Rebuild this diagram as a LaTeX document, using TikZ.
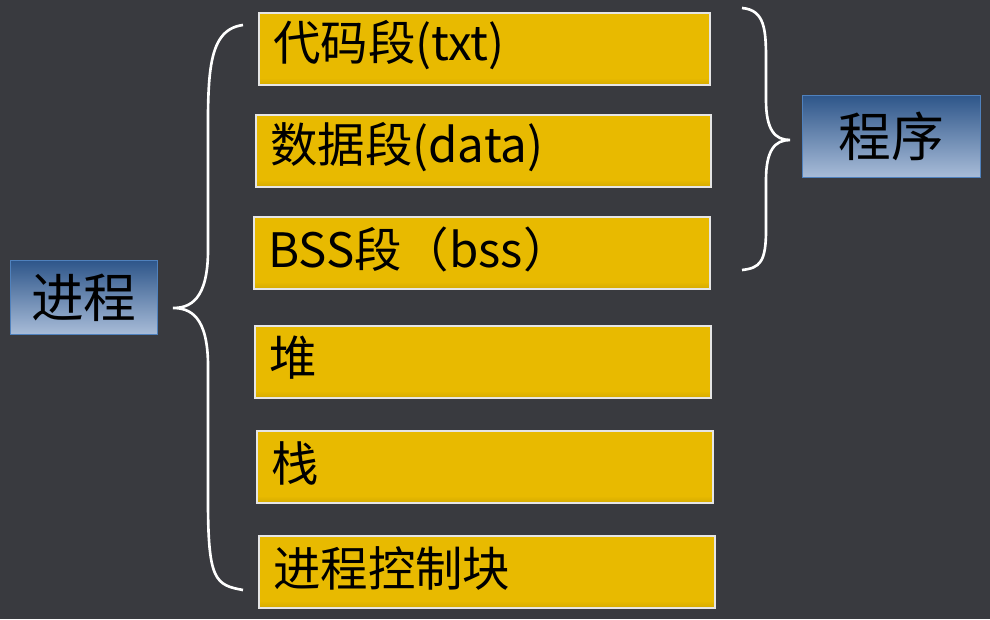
\documentclass[tikz,border=0pt]{standalone}
\usepackage{fontspec}
\setmainfont{Noto Sans CJK SC}
\usetikzlibrary{positioning,calc}
\definecolor{bgcolor}{RGB}{57,58,63}
\definecolor{goldtop}{RGB}{160,122,0}
\definecolor{goldmid}{RGB}{232,186,0}
\definecolor{goldbot}{RGB}{115,88,0}
\definecolor{bluetop}{RGB}{46,86,138}
\definecolor{bluebot}{RGB}{168,188,216}
\definecolor{blueline}{RGB}{79,129,189}
\pgfdeclareverticalshading{goldshade}{100bp}{color(0bp)=(goldbot);
  color(30bp)=(goldmid); color(75bp)=(goldmid); color(100bp)=(goldtop)}
\tikzset{
  %% segbox : one memory segment
  segbox/.style={
    rectangle,
    draw=white!90!black,
    line width=1.2pt,
    shading=goldshade,
    minimum height=1.44cm,
    anchor=north west
  },
  %% segtext : text in a segment
  segtext/.style={
    anchor=west,
    text=black,
    xshift=0.18cm,
    yshift=0.08cm,
    font=\fontsize{27}{31}\selectfont
  },
  %% title : the two labels
  title/.style={
    rectangle,
    draw=blueline,
    top color=bluetop,
    bottom color=bluebot,
    anchor=north west,
    text=black,
    font=\fontsize{30}{34}\selectfont
  },
  %% brace : white curly brace
  brace/.style={white, line width=1.5pt}
}
\begin{document}
\begin{tikzpicture}
  [x=0.02cm,
  y=-0.02cm]

  \fill[bgcolor] (0,0) rectangle (990,619);
  \useasboundingbox (0,0) rectangle (990,619);

  %% Segments
  \node (txt) [segbox, minimum width=9.02cm] at (258,12) {};
  \node [segtext] at (txt.west) {代码段(txt)};
  \node (data) [segbox, minimum width=9.1cm] at (255,114) {};
  \node [segtext] at (data.west) {数据段(data)};
  \node (bss) [segbox, minimum width=9.12cm] at (253,216) {};
  \node [segtext] at (bss.west) {BSS段（bss）};
  \node (heap) [segbox, minimum width=9.12cm] at (254,325) {};
  \node [segtext] at (heap.west) {堆};
  \node (stack) [segbox, minimum width=9.12cm] at (256,430) {};
  \node [segtext] at (stack.west) {栈};
  \node (pcb) [segbox, minimum width=9.12cm] at (258,535) {};
  \node [segtext] at (pcb.west) {进程控制块};

  %% Labels
  \node (proc) [title, minimum width=2.94cm, minimum height=1.48cm] at (10,260) {进程};
  \node (prog) [title, minimum width=3.56cm, minimum height=1.64cm] at (802,95) {程序};

  %% Braces
  \coordinate (ltip) at (173,308);
  \draw [brace] (243,25) .. controls (205,30) and (208,80) .. (208,160)
    -- (208,250) .. controls (208,300) and (190,308) .. (ltip)
    .. controls (190,308) and (208,316) .. (208,366)
    -- (208,500) .. controls (208,580) and (215,585) .. (243,590);
  \coordinate (rtip) at (790,140);
  \draw [brace] (742,8) .. controls (765,10) and (766,30) .. (766,60)
    -- (766,100) .. controls (766,130) and (775,140) .. (rtip)
    .. controls (775,140) and (766,150) .. (766,180)
    -- (766,230) .. controls (766,262) and (760,268) .. (742,270);
\end{tikzpicture}
\end{document}
